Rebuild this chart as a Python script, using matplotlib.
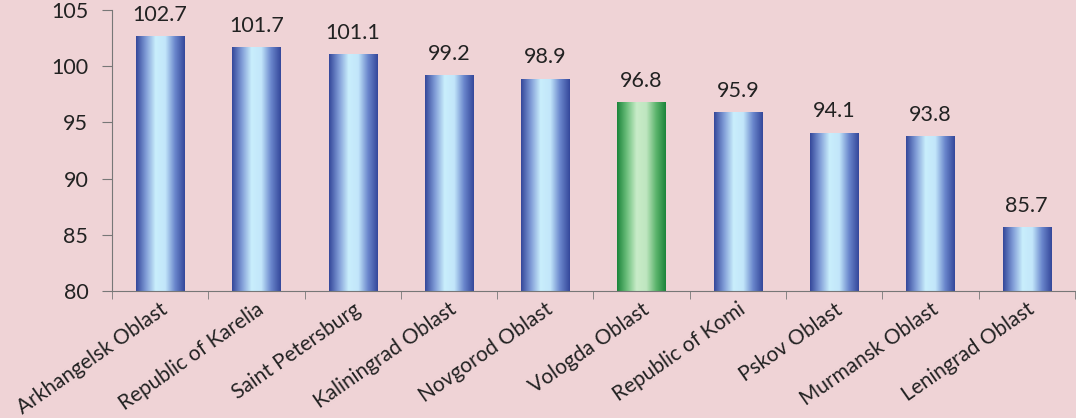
import numpy as np
import matplotlib.pyplot as plt
from matplotlib.colors import LinearSegmentedColormap

regions = ["Arkhangelsk Oblast", "Republic of Karelia", "Saint Petersburg",
           "Kaliningrad Oblast", "Novgorod Oblast", "Vologda Oblast",
           "Republic of Komi", "Pskov Oblast", "Murmansk Oblast", "Leningrad Oblast"]
values = [102.7, 101.7, 101.1, 99.2, 98.9, 96.8, 95.9, 94.1, 93.8, 85.7]
highlight = "Vologda Oblast"

plt.rcParams['font.family'] = ['Lato', 'DejaVu Sans']
bg = "#efd3d6"

fig = plt.figure(figsize=(10.76, 4.18), dpi=100, facecolor=bg)
ax = fig.add_axes([0.104, 0.304, 0.895, 0.672], facecolor=bg)

blue = LinearSegmentedColormap.from_list("b", ["#34479a", "#7f9bd6", "#c9eefc", "#c2e6fa", "#6a86cc", "#34479a"])
green = LinearSegmentedColormap.from_list("g", ["#1b843a", "#6cbf7c", "#c8ecc8", "#bfe6c0", "#5cb46c", "#1b843a"])
grad = np.linspace(0, 1, 256).reshape(1, -1)

x = np.arange(len(regions))
bars = ax.bar(x, values, width=0.5, bottom=0, color="none", zorder=2)
for b, name, v in zip(bars, regions, values):
    cm = green if name == highlight else blue
    im = ax.imshow(grad, cmap=cm, aspect="auto", zorder=2,
                   extent=[b.get_x(), b.get_x() + b.get_width(), 80, v])
    im.set_clip_path(b)
    ax.text(b.get_x() + b.get_width() / 2, v + 1.0, f"{v:.1f}",
            ha="center", va="bottom", fontsize=15.5, color="#222222")

ax.set_xlim(-0.5, len(regions) - 0.5)
ax.set_ylim(80, 105)
ax.set_yticks([80, 85, 90, 95, 100, 105])
ax.tick_params(axis="y", labelsize=15.5, colors="#222222", length=7, pad=10, color="#777777")
ax.set_xticks(x)
ax.set_xticklabels(regions, rotation=35, ha="right", rotation_mode="anchor",
                   fontsize=15, color="#222222")
ax.set_xticks(np.arange(len(regions) + 1) - 0.5, minor=True)
ax.tick_params(axis="x", which="major", length=0, pad=6)
ax.tick_params(axis="x", which="minor", length=6, color="#777777")
for s in ["top", "right"]:
    ax.spines[s].set_visible(False)
for s in ["left", "bottom"]:
    ax.spines[s].set_color("#777777")

fig.savefig("out.png", dpi=100, facecolor=bg)
